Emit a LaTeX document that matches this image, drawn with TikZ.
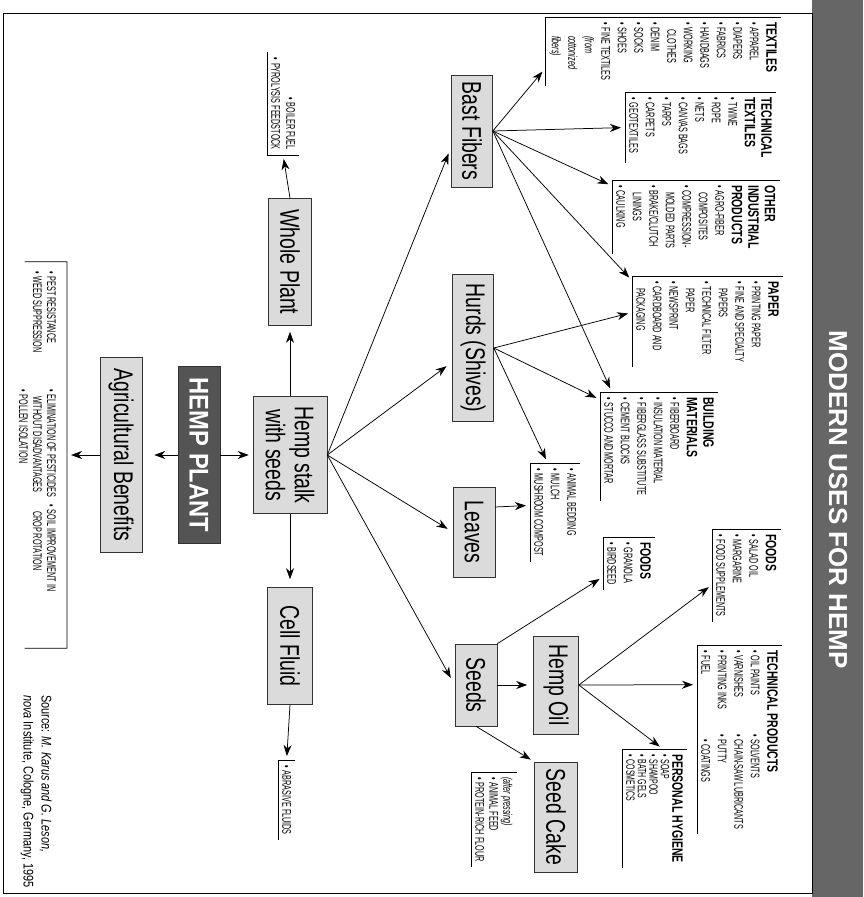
\documentclass[tikz,border=0pt]{standalone}
\usepackage{fontspec}
\setmainfont{Liberation Sans}
\newfontfamily\boxfont{Liberation Sans}[FakeStretch=0.72]
\newfontfamily\listfont{Liberation Sans}[FakeStretch=0.58]
\newfontfamily\hdrfont{Liberation Sans}[FakeStretch=0.7]
\newfontfamily\srcfont{Liberation Sans}[FakeStretch=0.78]
\newfontfamily\plantfont{Liberation Sans}[FakeStretch=0.88]
\usepackage{xcolor}
\usetikzlibrary{arrows.meta,calc}

\definecolor{bandgray}{rgb}{0.40,0.40,0.40}
\definecolor{boxgray}{rgb}{0.86,0.86,0.86}
\definecolor{plantgray}{rgb}{0.33,0.33,0.33}

\newcommand{\hdr}[1]{{\hdrfont\bfseries\fontsize{15}{15}\selectfont #1}}
\newcommand{\itm}{\textbullet\hspace{3pt}}
\newcommand{\cont}{\hspace*{7pt}}

\tikzset{
  usebox/.style={draw=black!80, fill=boxgray, line width=0.6pt, inner sep=0pt, align=center,
    font=\boxfont\fontsize{27}{29}\selectfont},
  plantbox/.style={draw=black!80, fill=plantgray, text=white, line width=0.6pt, inner sep=0pt,
    font=\plantfont\bfseries\fontsize{27}{29}\selectfont},
  uselist/.style={anchor=south west, inner xsep=5pt, inner ysep=4pt, align=left,
    font=\listfont\fontsize{12.5}{16.5}\selectfont},
  rule/.style={line width=0.7pt},
  arr/.style={line width=0.75pt, -{Stealth[length=11pt,width=8pt,inset=3.5pt]}, shorten >=4pt},
}

\begin{document}
\begin{tikzpicture}[x=1pt,y=1pt,rotate=-90,transform shape]
\useasboundingbox (0,0) rectangle (897,863);

% title band and frame
\fill[bandgray] (0,812) rectangle (897,863);
\draw[line width=0.8pt] (13,3) rectangle (893,812);
\node[text=white, font=\bfseries\fontsize{26}{28}\selectfont] (title) at (500,838) {MODERN USES FOR HEMP};

% main boxes
\node[usebox, minimum width=117pt, minimum height=74pt] (stalk) at (455,290) {Hemp stalk\\with seeds};
\node[plantbox, minimum width=177pt, minimum height=42pt] (plant) at (455,199) {HEMP PLANT};
\node[usebox, minimum width=195pt, minimum height=42pt] (agri) at (455,121) {Agricultural Benefits};
\node[usebox, minimum width=127pt, minimum height=43pt] (whole) at (262,290) {Whole Plant};
\node[usebox, minimum width=117pt, minimum height=45pt] (cell) at (646,290) {Cell Fluid};
\node[usebox, minimum width=112pt, minimum height=41pt] (bast) at (131,472) {Bast Fibers};
\node[usebox, minimum width=147pt, minimum height=41pt] (hurds) at (348,473) {Hurds (Shives)};
\node[usebox, minimum width=90pt, minimum height=42pt] (leaves) at (532,474) {Leaves};
\node[usebox, minimum width=82pt, minimum height=42pt] (seeds) at (685,476) {Seeds};
\node[usebox, minimum width=98pt, minimum height=45pt] (oil) at (685,556) {Hemp Oil};
\node[usebox, minimum width=110pt, minimum height=43pt] (cake) at (817,556) {Seed Cake};

% lists
\node[uselist] (tx) at (17,545) {\hdr{TEXTILES}\\\itm APPAREL\\\itm DIAPERS\\\itm FABRICS\\\itm HANDBAGS\\\itm WORKING\\\cont CLOTHES\\\itm DENIM\\\itm SOCKS\\\itm SHOES\\\itm FINE TEXTILES\\\hspace*{14pt}\textit{(from}\\\hspace*{14pt}\textit{cottonized}\\\hspace*{14pt}\textit{fibers)}};
\node[uselist] (tt) at (92,625) {\hdr{TECHNICAL}\\\hdr{TEXTILES}\\\itm TWINE\\\itm ROPE\\\itm NETS\\\itm CANVAS BAGS\\\itm TARPS\\\itm CARPETS\\\itm GEOTEXTILES};
\node[uselist] (oi) at (180,612) {\hdr{OTHER}\\\hdr{INDUSTRIAL}\\\hdr{PRODUCTS}\\\itm AGRO-FIBER\\\cont COMPOSITES\\\itm COMPRESSION-\\\cont MOLDED PARTS\\\itm BRAKE/CLUTCH\\\cont LININGS\\\itm CAULKING};
\node[uselist] (pa) at (276,632) {\hdr{PAPER}\\\itm PRINTING PAPER\\\itm FINE AND SPECIALTY\\\cont PAPERS\\\itm TECHNICAL FILTER\\\cont PAPER\\\itm NEWSPRINT\\\itm CARDBOARD AND\\\cont PACKAGING};
\node[uselist] (bm) at (392,600) {\hdr{BUILDING}\\\hdr{MATERIALS}\\\itm FIBERBOARD\\\itm INSULATION MATERIAL\\\itm FIBERGLASS SUBSTITUTE\\\itm CEMENT BLOCKS\\\itm STUCCO AND MORTAR};
\node[uselist] (lv) at (463,530) {\itm ANIMAL BEDDING\\\itm MULCH\\\itm MUSHROOM COMPOST};
\node[uselist] (fs) at (537,603) {\hdr{FOODS}\\\itm GRANOLA\\\itm BIRDSEED};
\node[uselist] (fo) at (529,712) {\hdr{FOODS}\\\itm SALAD OIL\\\itm MARGARINE\\\itm FOOD SUPPLEMENTS};
\node[uselist] (tp) at (645,697) {\hdr{TECHNICAL PRODUCTS}\\\makebox[84pt][l]{\itm OIL PAINTS}\itm SOLVENTS\\\makebox[84pt][l]{\itm VARNISHES}\itm CHAIN-SAW LUBRICANTS\\\makebox[84pt][l]{\itm PRINTING INKS}\itm PUTTY\\\makebox[84pt][l]{\itm FUEL}\hspace*{5pt}\itm COATINGS};
\node[uselist, font=\listfont\fontsize{12}{11.5}\selectfont] (hy) at (749,622) {\hdr{PERSONAL HYGIENE}\\\itm SOAP\\\itm SHAMPOO\\\itm BATH GELS\\\itm COSMETICS};
\node[uselist, font=\listfont\fontsize{12.5}{14}\selectfont] (sc) at (772,471) {\textit{(after pressing)}\\\itm ANIMAL FEED\\\itm PROTEIN-RICH FLOUR};
\node[uselist] (cl) at (760,278) {\itm ABRASIVE FLUIDS};
\node[anchor=south east, inner xsep=5pt, inner ysep=4pt, align=right, font=\listfont\fontsize{12.5}{15}\selectfont] (wl) at (155,267) {\itm BOILER FUEL\\\itm PYROLYSIS FEEDSTOCK};
\node[anchor=north, inner xsep=9pt, inner ysep=10pt, font=\listfont\fontsize{12.5}{14}\selectfont] (al) at (455,67) {%
  \begin{tabular}{@{}p{118pt}@{}p{115pt}@{}p{135pt}@{}}
  \itm PEST RESISTANCE & \itm ELIMINATION OF PESTICIDES & \itm SOIL IMPROVEMENT IN\\
  \itm WEED SUPPRESSION & \cont WITHOUT DISADVANTAGES & \cont CROP ROTATION\\
   & \itm POLLEN ISOLATION & \\
  \end{tabular}};

% list rules
\foreach \n in {tx,tt,oi,pa,bm,lv,fs,fo,tp,hy,sc,cl}
  \draw[rule] (\n.north west) -- (\n.south west) -- (\n.south east);
\draw[rule] (wl.north east) -- (wl.south east) -- (wl.south west);
\draw[rule] ($(al.north west)!0.68!(al.south west)$) -- (al.north west) -- (al.north east) -- ($(al.north east)!0.68!(al.south east)$);

% source
\node[anchor=north west, inner sep=0pt, align=left, font=\srcfont\fontsize{14}{18}\selectfont] (src) at (695,52) {Source: \textit{M. Karus and G. Leson,}\\\textit{nova} Institute, Cologne, Germany, 1995};

% connectors from the plant
\draw[arr] (plant.north) -- (stalk.south);
\draw[arr, shorten >=12pt] (plant.south) -- (agri.north);
\draw[arr] (agri.south) -- (al.north);
\draw[arr, shorten >=6pt] (stalk.west) -- (whole.east);
\draw[arr] (whole.west) -- (wl.east);
\draw[arr, shorten >=8pt] (stalk.east) -- (cell.west);
\draw[arr] (cell.east) -- (cl.west);
\draw[arr, shorten >=7pt] (stalk.north) -- ($(bast.south)+(16,0)$);
\draw[arr, shorten >=7pt] (stalk.north) -- ($(hurds.south)+(14,0)$);
\draw[arr, shorten >=6pt] (stalk.north) -- (leaves.south);
\draw[arr, shorten >=8pt] (stalk.north) -- (seeds.south);

% bast fibers
\draw[arr] (bast.north) -- ($(tx.south west)!0.75!(tx.south east)$);
\draw[arr] (bast.north) -- (tt.south);
\draw[arr] (bast.north) -- ($(oi.south west)!0.08!(oi.south east)$);
\draw[arr] (bast.north) -- ($(pa.south west)!0.05!(pa.south east)$);
\draw[arr] (bast.north) -- ($(bm.south west)!0.1!(bm.north west)$);

% hurds
\draw[arr] (hurds.north) -- ($(pa.south west)!0.4!(pa.south east)$);
\draw[arr] (hurds.north) -- ($(bm.south west)!0.07!(bm.south east)$);
\draw[arr] (hurds.north) -- ($(lv.south west)!0.35!(lv.north west)$);

% leaves and seeds
\draw[arr] ($(leaves.north)+(-25,0)$) -- ($(lv.south west)!0.43!(lv.south east)$);
\draw[arr, shorten >=6pt] (seeds.north) -- (oil.south);
\draw[arr] (seeds.north west) -- ($(fs.south west)!0.75!(fs.south east)$);
\draw[arr] (seeds.east) -- (cake.south west);

% hemp oil
\draw[arr] (oil.north) -- ($(fo.south west)!0.6!(fo.south east)$);
\draw[arr] (oil.north) -- ($(tp.south west)!0.21!(tp.south east)$);
\draw[arr] (oil.north) -- ($(hy.south west)!0.63!(hy.north west)$);
\end{tikzpicture}
\end{document}
